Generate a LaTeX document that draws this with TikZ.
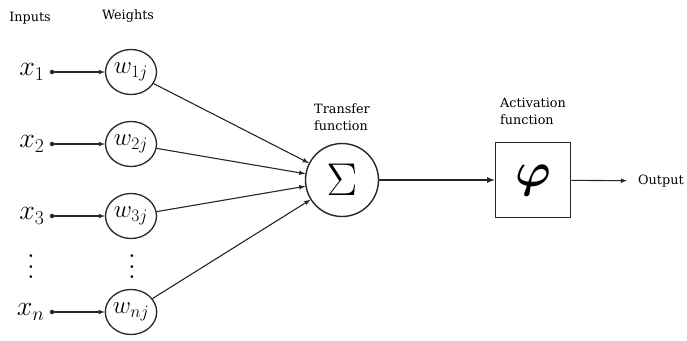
\RequirePackage{fix-cm}
\documentclass[tikz,border=0pt]{standalone}
\usepackage{amsmath}
\usepackage{fontspec}
\usepackage{tikz}
\usetikzlibrary{positioning,shapes.geometric}
\newfontfamily\captionfont{DejaVu Serif}

\begin{document}
\begin{tikzpicture}[x=1pt, y=-1pt,
    wire/.style={->, >=latex, line width=1.1pt, color=black!85},
    inputdot/.style={circle, fill=black!85, inner sep=0pt, minimum size=4.5pt},
    invar/.style={inner sep=0pt, font=\fontsize{28}{28}\selectfont},
    weight/.style={ellipse, draw=black!85, line width=1.3pt, minimum width=51pt, minimum height=45pt, inner sep=0pt, font=\fontsize{25}{25}\selectfont},
    caption/.style={align=left, inner sep=0pt, font=\captionfont\fontsize{12.8}{17}\selectfont},
    vdotsym/.style={inner sep=0pt}
]
\useasboundingbox (0,0) rectangle (687,340);

% column headings
\node[caption] (inputs) at (30,18) {Inputs};
\node[caption] (weights) at (128,16) {Weights};

% inputs x_i
\node[inputdot] (in1) at (52,72) {};
\node[inputdot] (in2) at (52,144) {};
\node[inputdot] (in3) at (52,216) {};
\node[inputdot] (inn) at (52,312) {};
\node[invar, left=5pt of in1] (lx1) {$x_1$};
\node[invar, left=5pt of in2] (lx2) {$x_2$};
\node[invar, left=5pt of in3] (lx3) {$x_3$};
\node[invar, left=5pt of inn] (lxn) {$x_n$};
\node[vdotsym] (xdots) at (31,259) {\scalebox{2.6}{$\vdots$}};

% weights w_ij
\node[weight] (w1) at (131,72) {$w_{1j}$};
\node[weight] (w2) at (131,144) {$w_{2j}$};
\node[weight] (w3) at (131,216) {$w_{3j}$};
\node[weight] (wn) at (131,312) {$w_{nj}$};
\node[vdotsym] (wdots) at (132,259) {\scalebox{2.6}{$\vdots$}};

% summation and activation
\node[circle, draw=black!85, line width=1.4pt, minimum size=73pt, inner sep=0pt,
      font=\fontsize{46}{46}\selectfont] (sigma) at (342,180) {$\Sigma$};
\node[rectangle, draw=black!85, line width=1.5pt, minimum size=75pt, inner sep=0pt,
      font=\fontsize{48}{48}\selectfont] (phi) at (533,180) {$\boldsymbol{\varphi}$};
\node[caption, above=12pt of sigma] (transfer) {Transfer\\function};
\node[caption, above=17pt of phi] (activation) {Activation\\function};
\node[caption, anchor=west] (output) at (638,181) {Output};

\draw[wire] (in1) -- (w1);
\draw[wire] (in2) -- (w2);
\draw[wire] (in3) -- (w3);
\draw[wire] (inn) -- (wn);

\draw[wire] (w1) -- (sigma);
\draw[wire] (w2) -- (sigma);
\draw[wire] (w3) -- (sigma);
\draw[wire] (wn) -- (sigma);

\draw[wire, line width=1.6pt] (sigma) -- (phi);
\draw[wire, shorten >=11pt] (phi) -- (output);

\end{tikzpicture}
\end{document}
